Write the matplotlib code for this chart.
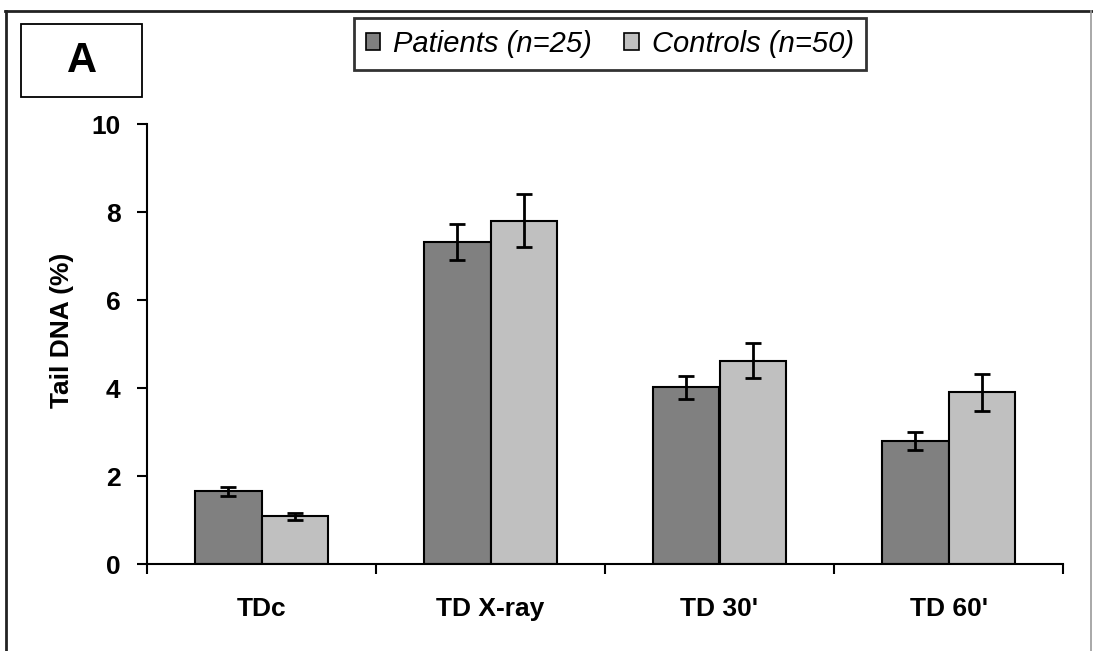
import matplotlib
matplotlib.use("Agg")
import matplotlib.pyplot as plt
from matplotlib.patches import Rectangle, Patch
from matplotlib.lines import Line2D
import numpy as np

categories = ["TDc", "TD X-ray", "TD 30'", "TD 60'"]
patients_mean = [1.65, 7.32, 4.02, 2.80]
patients_err = [0.10, 0.40, 0.26, 0.20]
controls_mean = [1.08, 7.80, 4.62, 3.90]
controls_err = [0.07, 0.60, 0.40, 0.42]
series_labels = ["Patients (n=25)", "Controls (n=50)"]
y_ticks = [0, 2, 4, 6, 8, 10]

plt.rcParams["font.family"] = ["Liberation Sans", "DejaVu Sans"]

fig = plt.figure(figsize=(10.93, 6.51), dpi=100)
W, H = 1093, 651

def fx(px):
    return px / W

def fy(py):
    return 1 - py / H

ax = fig.add_axes([fx(147), fy(564), fx(1063) - fx(147), fy(124) - fy(564)])

x = np.arange(len(categories))
w = 0.29
c_pat = "#808080"
c_con = "#c0c0c0"
ax.bar(x - w / 2, patients_mean, w, color=c_pat, edgecolor="black", linewidth=1.5, zorder=2)
ax.bar(x + w / 2, controls_mean, w, color=c_con, edgecolor="black", linewidth=1.5, zorder=2)
ax.errorbar(x - w / 2, patients_mean, yerr=patients_err, fmt="none", ecolor="black",
            elinewidth=2, capsize=6, capthick=2, zorder=3)
ax.errorbar(x + w / 2, controls_mean, yerr=controls_err, fmt="none", ecolor="black",
            elinewidth=2, capsize=6, capthick=2, zorder=3)

ax.set_xlim(-0.5, len(categories) - 0.5)
ax.set_ylim(0, 10)
ax.set_yticks(y_ticks)
ax.set_yticklabels([str(t) for t in y_ticks], fontsize=19, fontweight="bold")
ax.set_xticks(np.arange(len(categories) + 1) - 0.5)
ax.set_xticklabels([])
ax.set_xticks(x, minor=True)
ax.set_xticklabels(categories, minor=True, fontsize=19, fontweight="bold")
ax.tick_params(axis="x", which="minor", length=0, pad=24)
ax.tick_params(axis="x", which="major", direction="out", length=7, width=1.5)
ax.tick_params(axis="y", direction="out", length=7, width=1.5, pad=12)
for side in ("top", "right"):
    ax.spines[side].set_visible(False)
for side in ("left", "bottom"):
    ax.spines[side].set_linewidth(1.5)
ax.set_ylabel("Tail DNA (%)", fontsize=19, fontweight="bold")
ax.yaxis.set_label_coords(-0.08, 0.53)

# outer frame of the panel
fig.add_artist(Line2D([fx(5), fx(1092)], [fy(11), fy(11)], color="#222222", lw=2, transform=fig.transFigure))
fig.add_artist(Line2D([fx(6), fx(6)], [fy(11), 0], color="#222222", lw=2, transform=fig.transFigure))
fig.add_artist(Line2D([fx(1091), fx(1091)], [fy(11), 0], color="#999999", lw=1.2, transform=fig.transFigure))

# panel letter box
fig.add_artist(Rectangle((fx(21), fy(97)), fx(142) - fx(21), fy(24) - fy(97),
                         fill=False, edgecolor="black", lw=1.3, transform=fig.transFigure))
fig.text(fx(82), fy(61), "A", fontsize=30, fontweight="bold", ha="center", va="center")

# legend
handles = [Patch(facecolor=c_pat, edgecolor="black", lw=1.2),
           Patch(facecolor=c_con, edgecolor="black", lw=1.2)]
leg = fig.legend(handles, series_labels, loc="center", bbox_to_anchor=(fx(610), fy(44)),
                 ncol=2, frameon=True, fancybox=False,
                 prop={"size": 21, "style": "italic"},
                 handlelength=0.5, handleheight=0.5, handletextpad=0.45, columnspacing=1.1,
                 borderpad=0.4, borderaxespad=0)
leg.get_frame().set_edgecolor("black")
leg.get_frame().set_linewidth(2)

fig.savefig("out.png", dpi=100)
